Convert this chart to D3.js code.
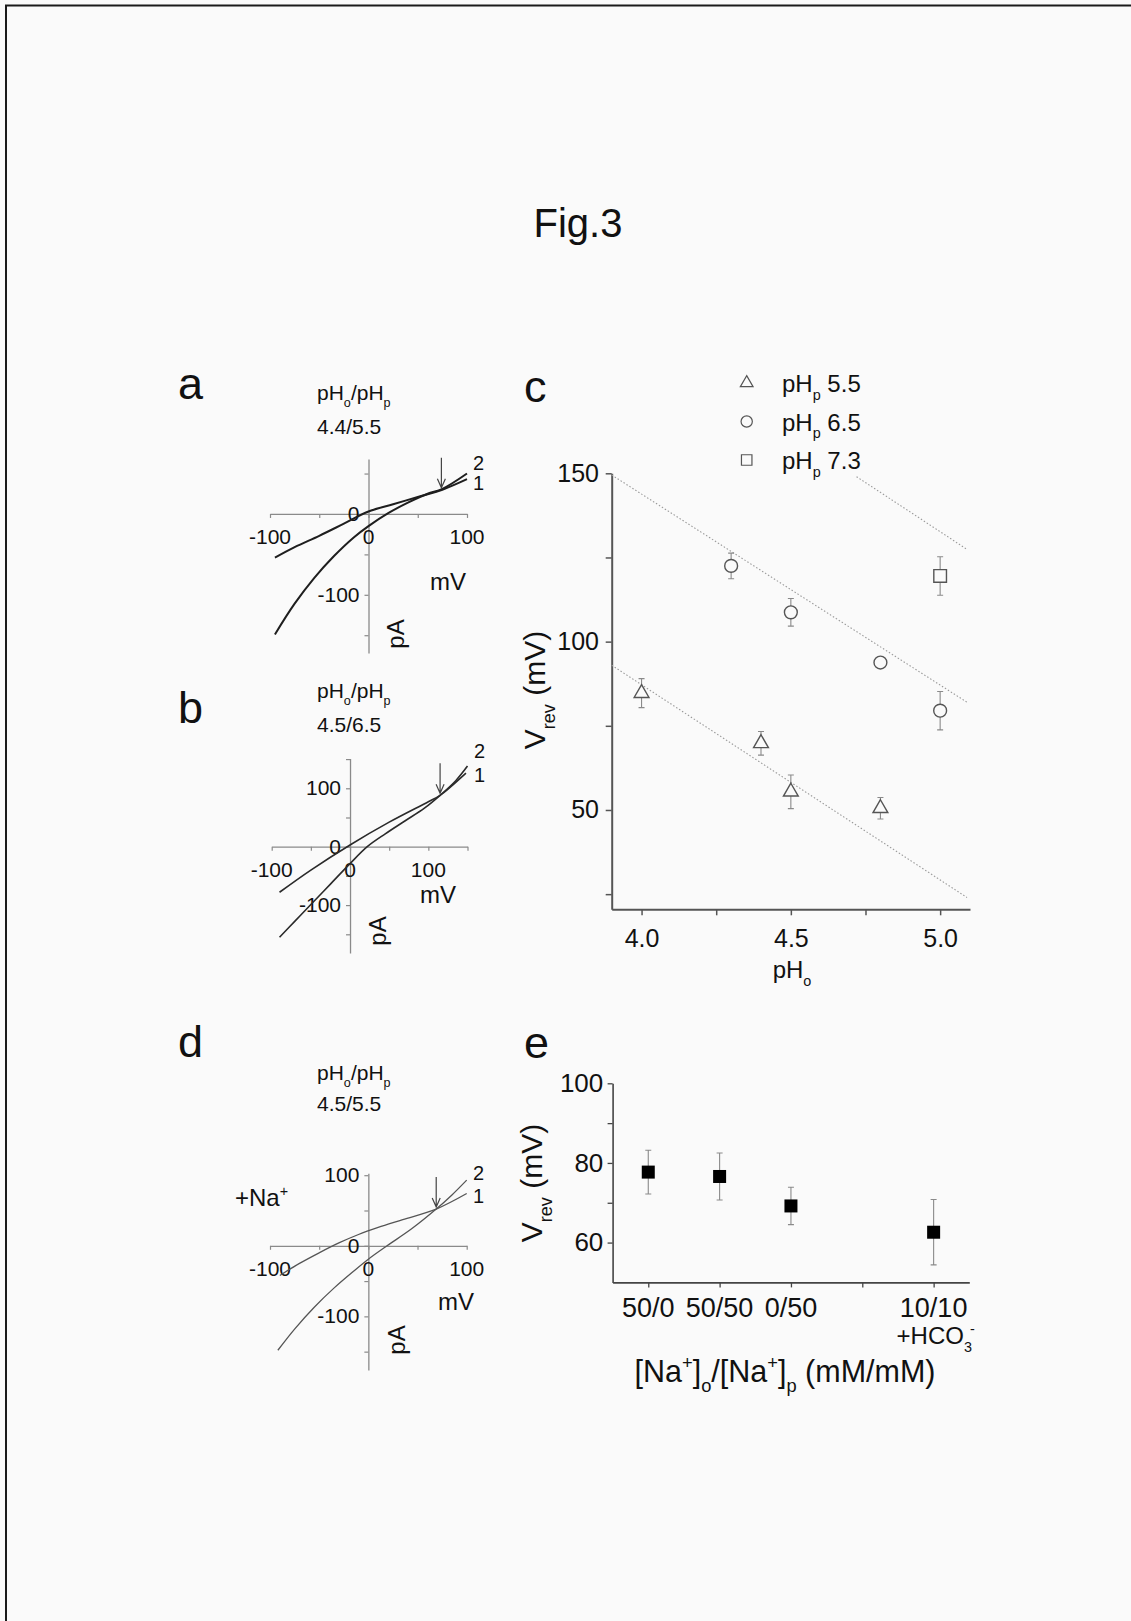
<!DOCTYPE html>
<html>
<head>
<meta charset="utf-8">
<script src="https://cdn.jsdelivr.net/npm/d3@7"></script>
<style>
body { margin: 0; background: #fafafa; }
text { font-family: "Liberation Sans", Arial, sans-serif; fill: #111; }
</style>
</head>
<body>
<script>
// ---- data ----
// I-V curves (mV, pA); curve 1 and curve 2 of each panel
const aV1 = [-95, -75, -50, -25, 0, 25, 50, 75, 100];
const aI1 = [-54, -41, -27, -12, 3, 12, 21, 30, 43];
const aV2 = [-95, -75, -55, -35, -15, 0, 20, 40, 60, 75, 100];
const aI2 = [-149, -111, -79, -52, -29, -15, 1, 14, 25, 31, 50];

const bV1 = [-90, -50, 0, 50, 100, 115, 148];
const bI1 = [-78, -40, 3, 42, 77, 88, 126];
const bV2 = [-90, -70, -50, -25, 0, 22, 45, 70, 95, 115, 135, 150];
const bI2 = [-155, -127, -99, -64, -29, 0, 22, 44, 66, 88, 113, 138];

const dV1 = [-90, -70, -50, -30, -10, 10, 35, 69, 100];
const dI1 = [-42, -25, -10, 4, 16, 26, 37, 52, 74];
const dV2 = [-92, -75, -55, -35, -15, 0, 19, 44, 69, 85, 100];
const dI2 = [-148, -118, -87, -60, -36, -19, 0, 24, 52, 72, 93];

// reversal potential arrows [mV, pA]
const aArrow = [74, 30];
const bArrow = [115, 88];
const dArrow = [69, 52];

// panel c: Vrev vs pHo
const c55pH = [4.0, 4.4, 4.5, 4.8];
const c55V = [84.7, 69.8, 55.4, 50.5];
const c55Err = [4.3, 3.5, 5.0, 3.2];
const c65pH = [4.3, 4.5, 4.8, 5.0];
const c65V = [122.5, 108.7, 93.8, 79.5];
const c65Err = [3.8, 4.1, 1.0, 5.7];
const c73pH = [5.0];
const c73V = [119.5];
const c73Err = [5.7];
// fitted lines: [pH start, pH end], [V start, V end]
const fitPH = [[3.9, 5.09], [3.9, 5.09], [4.72, 5.09]];
const fitV = [[93, 24], [149.5, 82], [149, 127.4]];
const legendNames = ['5.5', '6.5', '7.3'];

// panel e: Vrev vs Na conditions
const eCats = ['50/0', '50/50', '0/50', '10/10'];
const ePos = [1, 2, 3, 5];
const eV = [77.7, 76.6, 69.2, 62.6];
const eErr = [5.5, 5.9, 4.7, 8.2];

// ---- svg ----
const svg = d3.select('body').append('svg')
    .attr('width', 1131)
    .attr('height', 1621);

svg.append('rect').attr('width', 1131).attr('height', 1621).attr('fill', '#fafafa');
svg.append('path')
    .attr('d', 'M6,1621 V5.5 H1131')
    .attr('fill', 'none')
    .attr('stroke', '#1a1a1a')
    .attr('stroke-width', 2);

// text with sub/superscripts
function richText(parent, x, y, parts, fs, anchor) {
    let t = parent.append('text')
        .attr('x', x).attr('y', y)
        .attr('font-size', fs)
        .attr('text-anchor', anchor || 'start');
    let shift = 0;
    parts.forEach(p => {
        let target = p.sub ? fs * 0.32 : p.sup ? -fs * 0.42 : 0;
        let ts = t.append('tspan').text(p.t).attr('dy', target - shift);
        if (p.sub || p.sup) ts.attr('font-size', fs * 0.6);
        if (p.dx) ts.attr('dx', p.dx);
        shift = target;
    });
    return t;
}

svg.append('text')
    .attr('x', 578).attr('y', 237)
    .attr('text-anchor', 'middle')
    .attr('font-size', 40)
    .text('Fig.3');

// panel letters
[['a', 178, 399], ['b', 178, 723], ['c', 524, 402], ['d', 178, 1057], ['e', 524, 1058]].forEach(l => {
    svg.append('text').attr('x', l[1]).attr('y', l[2]).attr('font-size', 45).text(l[0]);
});

// ---- I-V panels ----
function ivPanel(cfg) {
    let x = d3.scaleLinear().domain(cfg.xDom).range(cfg.xRange);
    let y = d3.scaleLinear().domain(cfg.yDom).range(cfg.yRange);
    let g = svg.append('g');
    let axisColor = '#8a8a8a';

    let xAxisTag = g.append('g')
        .attr('transform', `translate(0, ${y(0)})`)
        .call(d3.axisBottom(x).tickValues(cfg.xTicks).tickSize(4).tickSizeOuter(0).tickFormat(''));
    let yAxisTag = g.append('g')
        .attr('transform', `translate(${x(0)}, 0)`)
        .call(d3.axisLeft(y).tickValues(cfg.yTicks).tickSize(4).tickSizeOuter(0).tickFormat(''));
    [xAxisTag, yAxisTag].forEach(a => {
        a.select('.domain').attr('stroke', axisColor).attr('stroke-width', 1.3);
        a.selectAll('.tick line').attr('stroke', axisColor).attr('stroke-width', 1.2);
    });

    // tick labels
    [-100, 0, 100].forEach(v => {
        g.append('text').attr('x', x(v)).attr('y', y(0) + 30)
            .attr('text-anchor', 'middle').attr('font-size', 21).text(v);
    });
    cfg.yLabels.forEach(v => {
        g.append('text').attr('x', x(0) - 9).attr('y', y(v) + 7)
            .attr('text-anchor', 'end').attr('font-size', 21).text(v);
    });

    // curves
    let line = d3.line().curve(d3.curveCatmullRom.alpha(0.5))
        .x(d => x(d[0])).y(d => y(d[1]));
    [[cfg.V1, cfg.I1], [cfg.V2, cfg.I2]].forEach(c => {
        g.append('path')
            .datum(d3.zip(c[0], c[1]))
            .attr('d', line)
            .attr('fill', 'none')
            .attr('stroke', cfg.curveColor)
            .attr('stroke-width', cfg.curveWidth);
    });

    // arrow at reversal potential
    let ax = x(cfg.arrow[0]), ay = y(cfg.arrow[1]) - 2;
    g.append('path')
        .attr('d', `M${ax},${ay - 30} V${ay} M${ax - 4},${ay - 9} L${ax},${ay} L${ax + 4},${ay - 9}`)
        .attr('fill', 'none').attr('stroke', '#444').attr('stroke-width', 1.2);

    // labels
    g.append('text').attr('x', cfg.lab2[0]).attr('y', cfg.lab2[1]).attr('font-size', 20).text('2');
    g.append('text').attr('x', cfg.lab1[0]).attr('y', cfg.lab1[1]).attr('font-size', 20).text('1');
    g.append('text').attr('x', cfg.mv[0]).attr('y', cfg.mv[1]).attr('font-size', 24).text('mV');
    g.append('text')
        .attr('transform', `translate(${cfg.pa[0]}, ${cfg.pa[1]}) rotate(-90)`)
        .attr('text-anchor', 'middle').attr('font-size', 24).text('pA');
    richText(g, cfg.title[0], cfg.title[1],
        [{t: 'pH'}, {t: 'o', sub: true}, {t: '/pH'}, {t: 'p', sub: true}], 21);
    g.append('text').attr('x', cfg.title[0]).attr('y', cfg.title[2]).attr('font-size', 21).text(cfg.cond);
    return g;
}

ivPanel({
    V1: aV1, I1: aI1, V2: aV2, I2: aI2, arrow: aArrow,
    xDom: [-100, 100], xRange: [270, 467],
    yDom: [-172, 68], yRange: [653, 459],
    xTicks: [-100, -50, 0, 50, 100], yTicks: [-150, -100, -50, 0, 50], yLabels: [-100, 0],
    curveColor: '#1e1e1e', curveWidth: 2,
    lab2: [473, 470], lab1: [473, 490], mv: [430, 590], pa: [404, 634],
    title: [317, 400, 434], cond: '4.4/5.5'
});

ivPanel({
    V1: bV1, I1: bI1, V2: bV2, I2: bI2, arrow: bArrow,
    xDom: [-100, 150], xRange: [271.7, 467.5],
    yDom: [-182, 151], yRange: [953, 758.5],
    xTicks: [-100, -50, 0, 50, 100, 150], yTicks: [-150, -100, -50, 0, 50, 100, 150], yLabels: [-100, 0, 100],
    curveColor: '#2a2a2a', curveWidth: 1.6,
    lab2: [474, 758], lab1: [474, 782], mv: [420, 903], pa: [386, 931],
    title: [317, 698, 732], cond: '4.5/6.5'
});

let dPanel = ivPanel({
    V1: dV1, I1: dI1, V2: dV2, I2: dI2, arrow: dArrow,
    xDom: [-100, 100], xRange: [270, 466.7],
    yDom: [-176, 102.7], yRange: [1370, 1173.3],
    xTicks: [-100, -50, 0, 50, 100], yTicks: [-150, -100, -50, 0, 50, 100], yLabels: [-100, 0, 100],
    curveColor: '#555', curveWidth: 1.3,
    lab2: [473, 1180], lab1: [473, 1203], mv: [438, 1310], pa: [405, 1340],
    title: [317, 1080, 1111], cond: '4.5/5.5'
});
richText(dPanel, 235, 1206, [{t: '+Na'}, {t: '+', sup: true}], 24);

// ---- panel c ----
let xC = d3.scaleLinear().domain([3.9, 5.1]).range([611.7, 970]);
let yC = d3.scaleLinear().domain([20.5, 150]).range([909.3, 473.3]);
let gc = svg.append('g');
let cAxisColor = '#555';

let xcTag = gc.append('g').attr('transform', `translate(0, ${yC(20.5)})`)
    .call(d3.axisBottom(xC).tickValues([4, 4.25, 4.5, 4.75, 5]).tickSize(6).tickSizeOuter(0)
        .tickFormat(d => [4, 4.5, 5].includes(d) ? d.toFixed(1) : ''));
let ycTag = gc.append('g').attr('transform', `translate(${xC(3.9)}, 0)`)
    .call(d3.axisLeft(yC).tickValues([25, 50, 75, 100, 125, 150]).tickSize(6).tickSizeOuter(0)
        .tickFormat(d => d % 50 === 0 ? d : ''));
[xcTag, ycTag].forEach(a => {
    a.select('.domain').attr('stroke', cAxisColor).attr('stroke-width', 2);
    a.selectAll('.tick line').attr('stroke', cAxisColor).attr('stroke-width', 1.5);
    a.selectAll('.tick text').attr('font-size', 25).attr('fill', '#111')
        .attr('font-family', '"Liberation Sans", Arial, sans-serif');
});
xcTag.selectAll('.tick text').attr('dy', '1.15em');
ycTag.selectAll('.tick text').attr('dx', '-0.15em');

// fitted dotted lines
fitPH.forEach((p, i) => {
    gc.append('line')
        .attr('x1', xC(p[0])).attr('y1', yC(fitV[i][0]))
        .attr('x2', xC(p[1])).attr('y2', yC(fitV[i][1]))
        .attr('stroke', '#9a9a9a').attr('stroke-width', 1.1)
        .attr('stroke-dasharray', '1.5,2');
});

let markColor = '#555';
let triSym = d3.symbol().type(d3.symbolTriangle).size(95);
let cirSym = d3.symbol().type(d3.symbolCircle).size(130);
let sqSym = d3.symbol().type(d3.symbolSquare).size(160);

function cSeries(pH, V, err, sym) {
    pH.forEach((p, i) => {
        let px = xC(p);
        gc.append('path')
            .attr('d', `M${px - 3},${yC(V[i] + err[i])} H${px + 3} M${px},${yC(V[i] + err[i])} V${yC(V[i] - err[i])} M${px - 3},${yC(V[i] - err[i])} H${px + 3}`)
            .attr('stroke', '#8a8a8a').attr('stroke-width', 1.1).attr('fill', 'none');
        gc.append('path')
            .attr('d', sym)
            .attr('transform', `translate(${px}, ${yC(V[i])})`)
            .attr('fill', '#fafafa').attr('stroke', markColor).attr('stroke-width', 1.4);
    });
}
cSeries(c55pH, c55V, c55Err, triSym);
cSeries(c65pH, c65V, c65Err, cirSym);
cSeries(c73pH, c73V, c73Err, sqSym);

// legend
let legSyms = [d3.symbol().type(d3.symbolTriangle).size(70), d3.symbol().type(d3.symbolCircle).size(100), d3.symbol().type(d3.symbolSquare).size(110)];
legendNames.forEach((n, i) => {
    let ly = 383 + i * 38.5;
    gc.append('path').attr('d', legSyms[i]).attr('transform', `translate(746.7, ${ly})`)
        .attr('fill', 'none').attr('stroke', '#555').attr('stroke-width', 1.2);
    richText(gc, 782, ly + 9, [{t: 'pH'}, {t: 'p', sub: true}, {t: ' ' + n}], 24);
});

richText(gc, 792, 978, [{t: 'pH'}, {t: 'o', sub: true}], 24, 'middle');
let vLab = richText(gc, 0, 0, [{t: 'V'}, {t: 'rev', sub: true}, {t: ' (mV)'}], 30, 'middle');
vLab.attr('transform', 'translate(545, 690) rotate(-90)');

// ---- panel e ----
let xE = d3.scaleLinear().domain([0.5, 5.5]).range([612.6, 969.3]);
let yE = d3.scaleLinear().domain([50, 100]).range([1282.4, 1083.3]);
let ge = svg.append('g');

let xeTag = ge.append('g').attr('transform', `translate(0, ${yE(50)})`)
    .call(d3.axisBottom(xE).tickValues([1, 2, 3, 4, 5]).tickSize(5).tickSizeOuter(0).tickFormat(''));
let yeTag = ge.append('g').attr('transform', `translate(${xE(0.5)}, 0)`)
    .call(d3.axisLeft(yE).tickValues([60, 70, 80, 90, 100]).tickSize(5).tickSizeOuter(0)
        .tickFormat(d => d % 20 === 0 ? d : ''));
[xeTag, yeTag].forEach(a => {
    a.select('.domain').attr('stroke', '#444').attr('stroke-width', 1.6);
    a.selectAll('.tick line').attr('stroke', '#444').attr('stroke-width', 1.3);
});
yeTag.selectAll('.tick text').attr('font-size', 26).attr('fill', '#111')
    .attr('font-family', '"Liberation Sans", Arial, sans-serif').attr('dx', '-0.05em');

eCats.forEach((c, i) => {
    ge.append('text').attr('x', xE(ePos[i])).attr('y', yE(50) + 35)
        .attr('text-anchor', 'middle').attr('font-size', 27).text(c);
});
richText(ge, xE(5) + 2, yE(50) + 62, [{t: '+HCO'}, {t: '3', sub: true}, {t: '-', sup: true, dx: -2}], 24, 'middle');

ePos.forEach((p, i) => {
    let px = xE(p);
    ge.append('path')
        .attr('d', `M${px - 3},${yE(eV[i] + eErr[i])} H${px + 3} M${px},${yE(eV[i] + eErr[i])} V${yE(eV[i] - eErr[i])} M${px - 3},${yE(eV[i] - eErr[i])} H${px + 3}`)
        .attr('stroke', '#8a8a8a').attr('stroke-width', 1.1).attr('fill', 'none');
    ge.append('rect')
        .attr('x', px - 6.5).attr('y', yE(eV[i]) - 6.5)
        .attr('width', 13).attr('height', 13)
        .attr('fill', '#000');
});

richText(ge, 785, 1382, [{t: '[Na'}, {t: '+', sup: true}, {t: ']'}, {t: 'o', sub: true}, {t: '/[Na'}, {t: '+', sup: true}, {t: ']'}, {t: 'p', sub: true}, {t: ' (mM/mM)'}], 30.5, 'middle');
let veLab = richText(ge, 0, 0, [{t: 'V'}, {t: 'rev', sub: true}, {t: ' (mV)'}], 30, 'middle');
veLab.attr('transform', 'translate(542, 1183) rotate(-90)');
</script>
</body>
</html>
